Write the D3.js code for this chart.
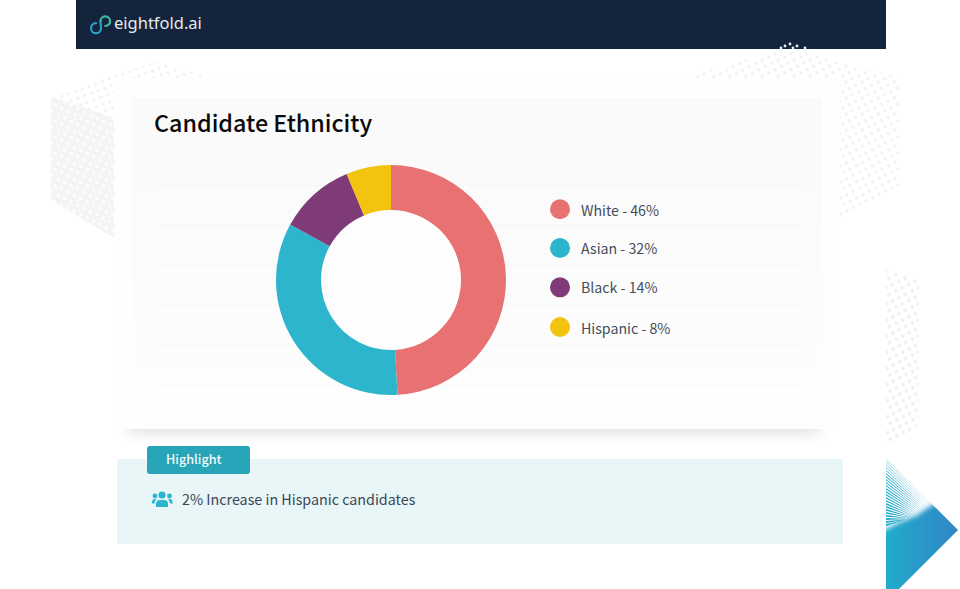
<!DOCTYPE html>
<html>
<head>
<meta charset="utf-8">
<script src="https://cdn.jsdelivr.net/npm/d3@7"></script>
<style>
  html, body { margin: 0; padding: 0; background: #fff; overflow: hidden; }
  text { font-family: "Noto Sans CJK SC", "Noto Sans", sans-serif; }
</style>
</head>
<body>
<script>
// labels as printed in the legend
const categories = ['White', 'Asian', 'Black', 'Hispanic'];
const legendValues = [46, 32, 14, 8];
// slice sizes as drawn in the donut (they differ from the printed labels)
const sliceShares = [49.1, 33.9, 10.7, 6.3];
const colors = ['#e87272', '#2db5cd', '#7f3a78', '#f2c40f'];
const gridRows = [0, 1, 2, 3, 4, 5, 6];

const title = 'Candidate Ethnicity';
const badgeText = 'Highlight';
const highlightText = '2% Increase in Hispanic candidates';

const svg = d3.select('body').append('svg')
  .attr('width', 960)
  .attr('height', 589)
  .style('display', 'block');

const defs = svg.append('defs');

function dotPattern(id, size, r, angle, fill, bg) {
  const p = defs.append('pattern')
    .attr('id', id)
    .attr('patternUnits', 'userSpaceOnUse')
    .attr('patternTransform', `rotate(${angle})`)
    .attr('width', size)
    .attr('height', size);
  if (bg) p.append('rect').attr('width', size).attr('height', size).attr('fill', bg);
  p.append('circle').attr('cx', size / 2).attr('cy', size / 2).attr('r', r).attr('fill', fill);
}
dotPattern('dots-top', 7.2, 1.5, -20, '#f0f0f0');
dotPattern('dots-right', 7.2, 1.6, -27, '#f0f0f0');
dotPattern('dots-big', 7.2, 2, -27, '#f1f1f1');
dotPattern('dots-inv', 7.2, 1.6, 27, '#ffffff', '#f4f4f4');

const shadow = defs.append('filter')
  .attr('id', 'blur')
  .attr('x', '-10%').attr('y', '-40%')
  .attr('width', '120%').attr('height', '180%');
shadow.append('feGaussianBlur').attr('stdDeviation', 7);

const soft = defs.append('filter')
  .attr('id', 'soft')
  .attr('x', '-20%').attr('y', '-20%')
  .attr('width', '140%').attr('height', '140%');
soft.append('feGaussianBlur').attr('stdDeviation', 2.5);

const triGrad = defs.append('linearGradient')
  .attr('id', 'tri')
  .attr('gradientUnits', 'userSpaceOnUse')
  .attr('x1', 886).attr('y1', 0)
  .attr('x2', 958).attr('y2', 0);
triGrad.append('stop').attr('offset', '0%').attr('stop-color', '#22accb');
triGrad.append('stop').attr('offset', '100%').attr('stop-color', '#3185c6');

defs.append('clipPath').attr('id', 'tri-clip')
  .append('polygon')
  .attr('points', '886,458 958,530 899,589 886,589');

const panelGrad = defs.append('linearGradient')
  .attr('id', 'panel')
  .attr('x1', 0).attr('y1', 0)
  .attr('x2', 0).attr('y2', 1);
panelGrad.append('stop').attr('offset', '0%').attr('stop-color', '#fafafa');
panelGrad.append('stop').attr('offset', '100%').attr('stop-color', '#fdfdfd');

// background decoration
svg.append('polygon')
  .attr('points', '51,96 160,61 215,80 114,122')
  .attr('fill', 'url(#dots-top)');
svg.append('polygon')
  .attr('points', '51,96 114,118 114,238 51,200')
  .attr('fill', 'url(#dots-inv)');
svg.append('polygon')
  .attr('points', '680,77 790,49 899,77 899,186 840,219 840,90')
  .attr('fill', 'url(#dots-right)');
svg.append('polygon')
  .attr('points', '886,268 919,280 919,425 886,445')
  .attr('fill', 'url(#dots-big)');

// header
svg.append('rect')
  .attr('x', 76).attr('y', 0)
  .attr('width', 810).attr('height', 49)
  .attr('fill', '#15243d');

const headerDots = [[781, 48], [785, 46], [790, 44], [797, 46], [793, 48], [805, 48]];
svg.append('g').selectAll('circle')
  .data(headerDots)
  .join('circle')
  .attr('cx', d => d[0])
  .attr('cy', d => d[1])
  .attr('r', 1.4)
  .attr('fill', '#e8ecf0');

const logo = svg.append('g')
  .attr('fill', 'none')
  .attr('stroke-width', 2.2)
  .attr('stroke-linecap', 'round')
  .attr('transform', 'translate(-0.5,0.5)');
logo.append('path')
  .attr('d', 'M96.500,22.700 A5,5 0 1 0 101.500,28 L101,20.700')
  .attr('stroke', '#2a9fc4');
logo.append('path')
  .attr('d', 'M101,20.700 A4.800,4.800 0 1 1 105.800,25.500')
  .attr('stroke', '#3fb6a8');
svg.append('text')
  .attr('x', 114).attr('y', 29)
  .attr('fill', '#e6eaee')
  .style('font-family', '"Noto Sans", sans-serif')
  .style('font-size', '16.5px')
  .text('eightfold.ai');

// card
svg.append('rect')
  .attr('x', 128).attr('y', 395)
  .attr('width', 692).attr('height', 38)
  .attr('fill', '#000').attr('opacity', 0.12)
  .attr('filter', 'url(#blur)');
svg.append('rect')
  .attr('x', 114).attr('y', 78)
  .attr('width', 726).attr('height', 351)
  .attr('fill', '#fefefe');
svg.append('rect')
  .attr('x', 132).attr('y', 98)
  .attr('width', 690).attr('height', 277)
  .attr('fill', 'url(#panel)');

const rowScale = d3.scaleLinear().domain([0, 6]).range([145, 385]);
svg.append('g').selectAll('line')
  .data(gridRows)
  .join('line')
  .attr('x1', 155).attr('x2', 800)
  .attr('y1', d => rowScale(d) + 0.5)
  .attr('y2', d => rowScale(d) + 0.5)
  .attr('stroke', '#f6f6f6');

svg.append('text')
  .attr('x', 154).attr('y', 132)
  .attr('fill', '#0a0a0a')
  .style('font-size', '23.3px')
  .style('font-weight', 500)
  .text(title);

// donut
const pie = d3.pie().sort(null);
const arc = d3.arc().innerRadius(70).outerRadius(115);

const donut = svg.append('g').attr('transform', 'translate(391,280)');
donut.append('circle').attr('r', 70).attr('fill', '#fdfdfd');
donut.selectAll('path')
  .data(pie(sliceShares))
  .join('path')
  .attr('d', arc)
  .attr('fill', (d, i) => colors[i]);

// legend
const legendY = d3.scalePoint().domain(categories).range([209, 327]);
const legendNudge = [0.3, -0.3, -0.3, 0];
const labelDy = [7, 6, 6, 6.500];
const legend = svg.append('g').selectAll('g')
  .data(categories)
  .join('g')
  .attr('transform', (d, i) => `translate(0,${legendY(d) + legendNudge[i]})`);
legend.append('circle')
  .attr('cx', 560).attr('r', 10)
  .attr('fill', (d, i) => colors[i]);
legend.append('text')
  .attr('x', 581).attr('y', (d, i) => labelDy[i])
  .attr('fill', '#434d5c')
  .style('font-size', '14.2px')
  .text((d, i) => `${d} - ${legendValues[i]}%`);

// highlight box
svg.append('rect')
  .attr('x', 117).attr('y', 459)
  .attr('width', 726).attr('height', 85)
  .attr('fill', '#e8f6f8');
svg.append('rect')
  .attr('x', 147).attr('y', 446)
  .attr('width', 103).attr('height', 28)
  .attr('rx', 3)
  .attr('fill', '#28a4b8');
svg.append('text')
  .attr('x', 166).attr('y', 464)
  .attr('fill', '#f4fbfc')
  .style('font-size', '12.6px')
  .style('font-weight', 500)
  .text(badgeText);

const icon = svg.append('g').attr('fill', '#2db5cd');
icon.append('circle').attr('cx', 162).attr('cy', 495).attr('r', 3.6);
icon.append('circle').attr('cx', 155).attr('cy', 496).attr('r', 2.4);
icon.append('circle').attr('cx', 169.500).attr('cy', 496).attr('r', 2.4);
icon.append('path').attr('d', 'M156,507 v-3 q0,-4 4,-4 h4 q4,0 4,4 v3 z');
icon.append('path').attr('d', 'M152,503.500 v-1.500 q0,-3 3,-3 h1.500 q-2,1.500 -2,4.500 z');
icon.append('path').attr('d', 'M172.500,503.500 v-1.500 q0,-3 -3,-3 h-1.500 q2,1.500 2,4.500 z');

svg.append('text')
  .attr('x', 182).attr('y', 505)
  .attr('fill', '#3a4655')
  .style('font-size', '14.3px')
  .text(highlightText);

// corner triangle with fan stripes
const stripeStarts = d3.range(0, 23);
const stripeY = d3.scaleLinear().domain([0, 22]).range([458, 524]);
const stripeW = d3.scaleLinear().domain([0, 22]).range([0.9, 2]);
const stripeAlpha = d3.scaleLinear().domain([0, 6, 22]).range([0.4, 1, 1]);
const stripeTipX = d3.scaleLinear().domain([0, 22]).range([936, 905]);
const stripeTipY = d3.scaleLinear().domain([0, 22]).range([508, 520]);
const corner = svg.append('g').attr('clip-path', 'url(#tri-clip)');
corner.selectAll('polygon.stripe')
  .data(stripeStarts)
  .join('polygon')
  .attr('class', 'stripe')
  .attr('points', d => {
    const y = stripeY(d);
    return `886,${y} 886,${y + stripeW(d)} ${stripeTipX(d)},${stripeTipY(d)}`;
  })
  .attr('fill', 'url(#tri)')
  .attr('opacity', d => stripeAlpha(d));
corner.append('polygon')
  .attr('points', '876,534 900,522 917,515 935,503 975,530 899,600 876,600')
  .attr('fill', 'url(#tri)')
  .attr('filter', 'url(#soft)');
</script>
</body>
</html>
